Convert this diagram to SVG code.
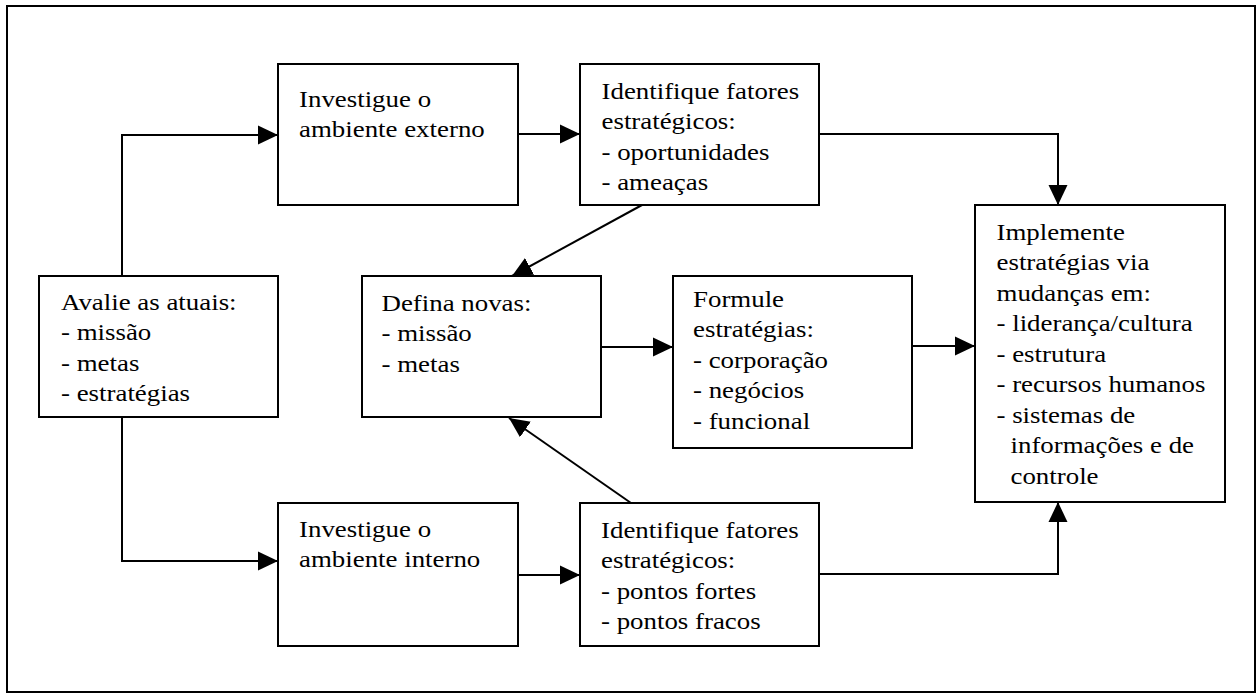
<svg xmlns="http://www.w3.org/2000/svg" width="1257" height="696" viewBox="0 0 1257 696">
  <defs>
    <style>
      .box { fill: #ffffff; stroke: #000000; stroke-width: 2; }
      .frame { fill: #ffffff; stroke: #000000; stroke-width: 2; }
      .lbl { font-family: "Liberation Serif", "Times New Roman", serif; font-size: 24px; fill: #000000; }
      .link { fill: none; stroke: #000000; stroke-width: 2; marker-end: url(#arrow); }
    </style>
    <marker id="arrow" markerUnits="userSpaceOnUse" markerWidth="20" markerHeight="20" viewBox="0 0 20 20" refX="20" refY="10" orient="auto">
      <path d="M0,0.5 L20,10 L0,19.5 Z" fill="#000000"/>
    </marker>
  </defs>

  <!-- outer frame -->
  <rect class="frame" x="7" y="6" width="1248" height="686"/>

  <!-- connectors -->
  <g id="connectors">
    <polyline class="link" points="122,276 122,135 278,135"/>
    <polyline class="link" points="122,417 122,561 278,561"/>
    <line class="link" x1="518" y1="134" x2="580" y2="134"/>
    <line class="link" x1="518" y1="575" x2="580" y2="575"/>
    <polyline class="link" points="819,134 1058,134 1058,205"/>
    <polyline class="link" points="819,574 1058,574 1058,502"/>
    <line class="link" x1="642" y1="205" x2="512" y2="276"/>
    <line class="link" x1="631" y1="503" x2="509" y2="418"/>
    <line class="link" x1="601" y1="347" x2="673" y2="347"/>
    <line class="link" x1="912" y1="346" x2="975" y2="346"/>
  </g>

  <g id="avalie">
    <rect class="box" x="39" y="276" width="239" height="141"/>
    <text class="lbl" transform="translate(61,310) scale(1.12 1)">
      <tspan x="0" y="0">Avalie as atuais:</tspan>
      <tspan x="0" y="30.5">- missão</tspan>
      <tspan x="0" y="61">- metas</tspan>
      <tspan x="0" y="91.5">- estratégias</tspan>
    </text>
  </g>

  <g id="investigue-externo">
    <rect class="box" x="278" y="64" width="240" height="141"/>
    <text class="lbl" transform="translate(299,107) scale(1.12 1)">
      <tspan x="0" y="0">Investigue o</tspan>
      <tspan x="0" y="30.5">ambiente externo</tspan>
    </text>
  </g>

  <g id="identifique-externo">
    <rect class="box" x="580" y="64" width="239" height="141"/>
    <text class="lbl" transform="translate(601.5,99) scale(1.12 1)">
      <tspan x="0" y="0">Identifique fatores</tspan>
      <tspan x="0" y="30.5">estratégicos:</tspan>
      <tspan x="0" y="61">- oportunidades</tspan>
      <tspan x="0" y="91.5">- ameaças</tspan>
    </text>
  </g>

  <g id="defina">
    <rect class="box" x="362" y="276" width="239" height="141"/>
    <text class="lbl" transform="translate(381.5,311) scale(1.12 1)">
      <tspan x="0" y="0">Defina novas:</tspan>
      <tspan x="0" y="30.5">- missão</tspan>
      <tspan x="0" y="61">- metas</tspan>
    </text>
  </g>

  <g id="formule">
    <rect class="box" x="673" y="276" width="239" height="172"/>
    <text class="lbl" transform="translate(693,307) scale(1.12 1)">
      <tspan x="0" y="0">Formule</tspan>
      <tspan x="0" y="30.5">estratégias:</tspan>
      <tspan x="0" y="61">- corporação</tspan>
      <tspan x="0" y="91.5">- negócios</tspan>
      <tspan x="0" y="122">- funcional</tspan>
    </text>
  </g>

  <g id="implemente">
    <rect class="box" x="975" y="205" width="250" height="297"/>
    <text class="lbl" transform="translate(996.5,240) scale(1.12 1)">
      <tspan x="0" y="0">Implemente</tspan>
      <tspan x="0" y="30.5">estratégias via</tspan>
      <tspan x="0" y="61">mudanças em:</tspan>
      <tspan x="0" y="91.5">- liderança/cultura</tspan>
      <tspan x="0" y="122">- estrutura</tspan>
      <tspan x="0" y="152.5">- recursos humanos</tspan>
      <tspan x="0" y="183">- sistemas de</tspan>
      <tspan x="12.5" y="213.5">informações e de</tspan>
      <tspan x="12.5" y="244">controle</tspan>
    </text>
  </g>

  <g id="investigue-interno">
    <rect class="box" x="278" y="503" width="240" height="143"/>
    <text class="lbl" transform="translate(299,537) scale(1.12 1)">
      <tspan x="0" y="0">Investigue o</tspan>
      <tspan x="0" y="30.5">ambiente interno</tspan>
    </text>
  </g>

  <g id="identifique-interno">
    <rect class="box" x="580" y="503" width="239" height="143"/>
    <text class="lbl" transform="translate(601,538) scale(1.12 1)">
      <tspan x="0" y="0">Identifique fatores</tspan>
      <tspan x="0" y="30.5">estratégicos:</tspan>
      <tspan x="0" y="61">- pontos fortes</tspan>
      <tspan x="0" y="91.5">- pontos fracos</tspan>
    </text>
  </g>
</svg>
